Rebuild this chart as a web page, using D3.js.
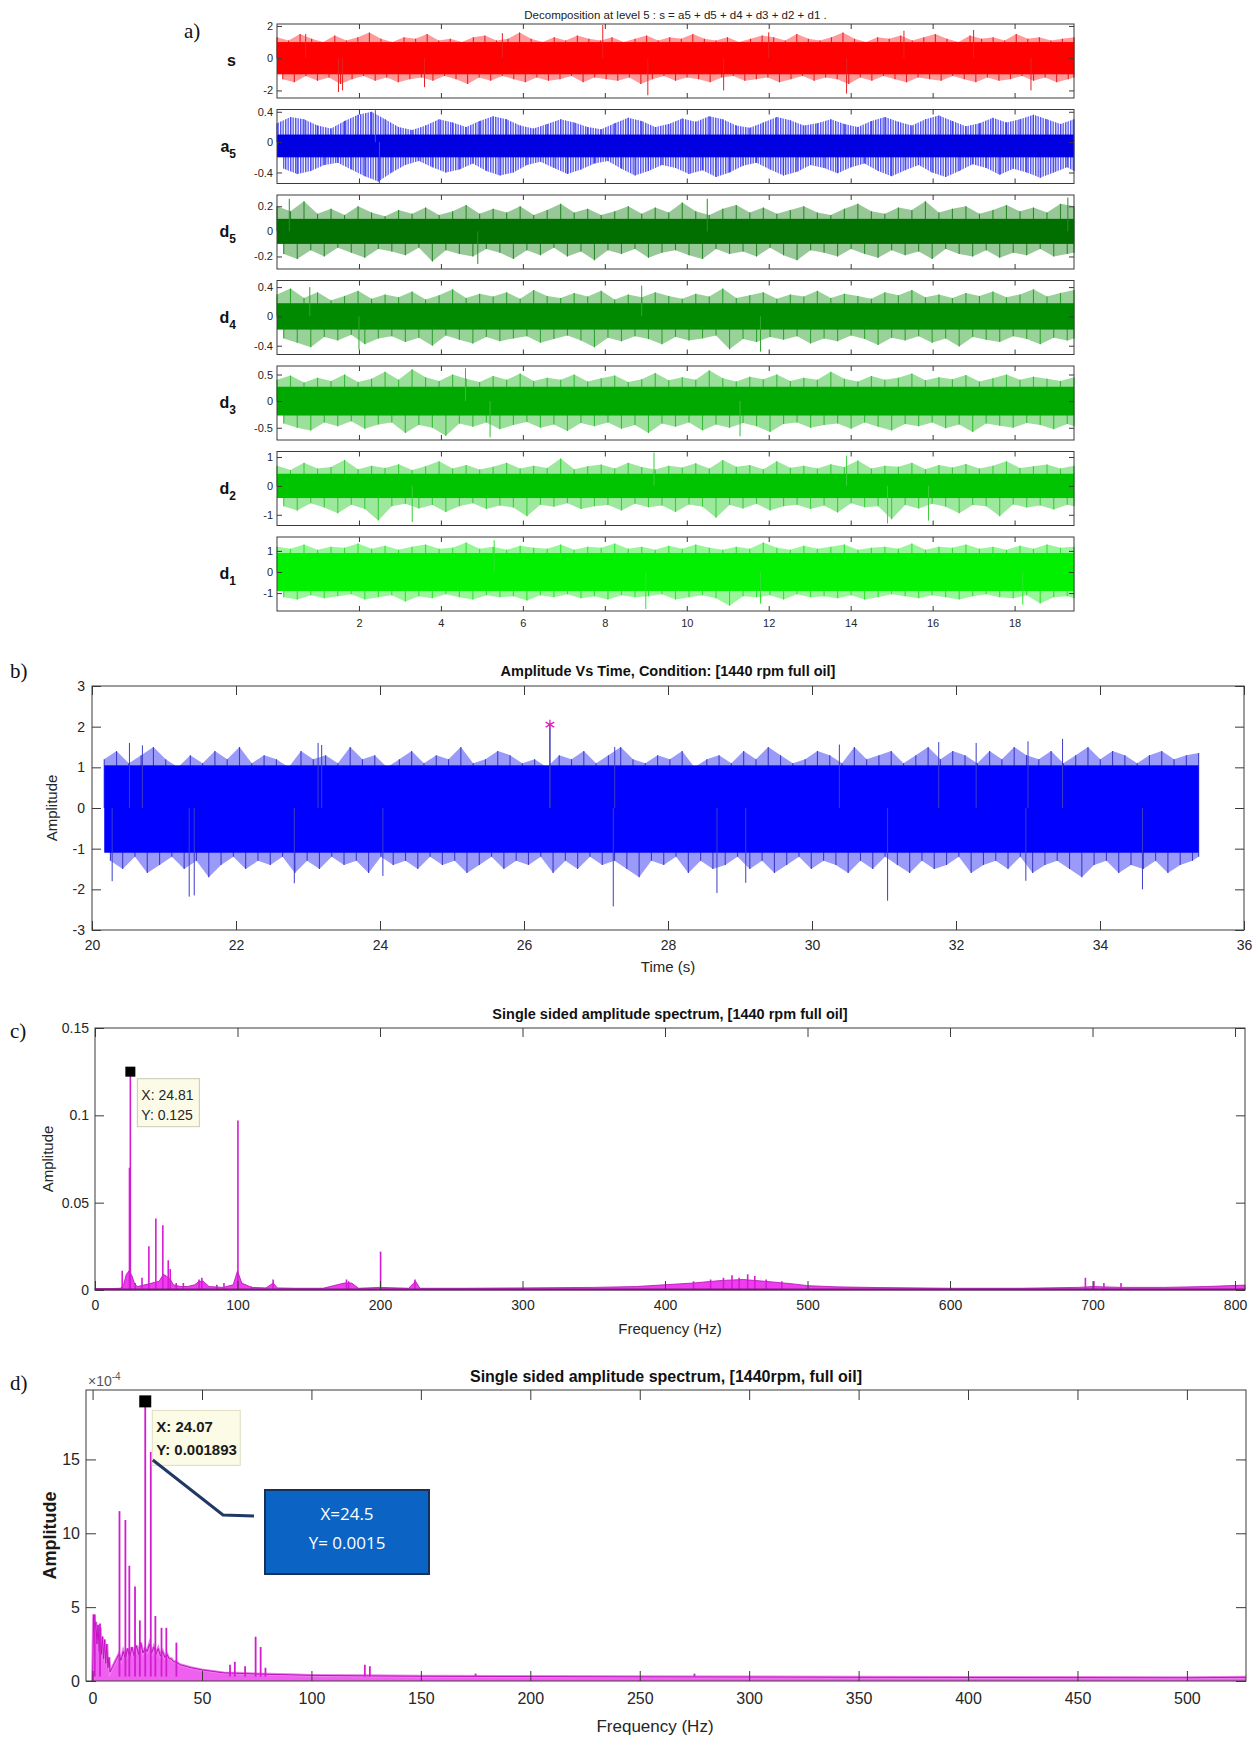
<!DOCTYPE html>
<meta charset="utf-8">
<title>Wavelet decomposition and spectra</title>
<style>
body { margin: 0; background: #fff; }
svg { display: block; }
.frame { fill: none; stroke: #3a3a3a; stroke-width: 1; }
.tick line { stroke: #3a3a3a; }
.tick text { fill: #262626; }
.plabel { font-family: "Liberation Serif", "DejaVu Serif", serif; font-size: 21px; fill: #111; }
</style>
<svg width="1260" height="1740"></svg>
<script src="https://d3js.org/d3.v7.min.js"></script>
<script>
// ---------- data ----------
// a) level-5 decomposition: envelope of each signal (upper / lower), dense core band, outliers [t, value]
const decompNames = ["s", "a5", "d5", "d4", "d3", "d2", "d1"];
const decompTimeEnd = 19.45;

const sTop = [1.3,1.1,1.5,1.2,1.0,1.4,1.1,1.3,1.6,1.2,1.0,1.3,1.2,1.5,1.1,1.2,1.0,1.3,1.4,1.1,1.2,1.6,1.2,1.0,1.3,1.1,1.4,1.2,1.1,1.3,1.0,1.2,1.4,1.1,1.3,1.2,1.5,1.2,1.1,1.3,1.0,1.2,1.4,1.3,1.1,1.5,1.2,1.1,1.3,1.6,1.2,1.0,1.3,1.2,1.4,1.1,1.3,1.5,1.2,1.0,1.4,1.2,1.3,1.1,1.5,1.2,1.3,1.1,1.2,1.3];
const sBot = [-1.3,-1.5,-1.1,-1.4,-1.2,-1.6,-1.3,-1.1,-1.4,-1.2,-1.5,-1.3,-1.2,-1.4,-1.1,-1.3,-1.6,-1.2,-1.4,-1.1,-1.3,-1.5,-1.2,-1.4,-1.3,-1.1,-1.5,-1.2,-1.3,-1.4,-1.2,-1.6,-1.3,-1.1,-1.4,-1.2,-1.3,-1.5,-1.2,-1.1,-1.4,-1.3,-1.2,-1.5,-1.3,-1.1,-1.4,-1.2,-1.3,-1.6,-1.2,-1.4,-1.1,-1.3,-1.5,-1.2,-1.3,-1.4,-1.1,-1.3,-1.5,-1.2,-1.4,-1.3,-1.1,-1.4,-1.2,-1.5,-1.3,-1.2];
const sSpikes = [[0.7,1.5],[1.5,-2.1],[1.6,-2.0],[3.6,-1.8],[5.5,1.55],[7.95,2.05],[9.05,-2.3],[10.9,-2.0],[12.0,1.6],[13.9,-2.2],[15.3,1.7],[17.0,1.75],[18.4,-2.0]];

const a5Top = [0.25,0.33,0.3,0.22,0.18,0.28,0.36,0.4,0.3,0.2,0.16,0.22,0.3,0.26,0.2,0.28,0.34,0.3,0.22,0.18,0.24,0.3,0.26,0.2,0.17,0.25,0.32,0.28,0.2,0.24,0.31,0.27,0.34,0.3,0.22,0.19,0.26,0.33,0.29,0.22,0.25,0.3,0.24,0.2,0.28,0.33,0.27,0.22,0.3,0.35,0.28,0.21,0.25,0.32,0.26,0.3,0.36,0.3,0.24,0.3];
const a5Bot = [-0.35,-0.42,-0.38,-0.3,-0.27,-0.36,-0.45,-0.52,-0.4,-0.3,-0.25,-0.33,-0.4,-0.36,-0.28,-0.38,-0.44,-0.4,-0.3,-0.26,-0.34,-0.42,-0.36,-0.28,-0.25,-0.35,-0.44,-0.38,-0.3,-0.34,-0.42,-0.37,-0.46,-0.4,-0.31,-0.27,-0.36,-0.44,-0.39,-0.3,-0.34,-0.41,-0.33,-0.28,-0.38,-0.45,-0.37,-0.3,-0.4,-0.46,-0.38,-0.29,-0.34,-0.43,-0.35,-0.4,-0.47,-0.4,-0.33,-0.38];
const a5Spikes = [[2.4,0.42],[2.5,-0.54]];

const d5Top = [0.2,0.16,0.24,0.14,0.18,0.13,0.2,0.15,0.12,0.17,0.14,0.19,0.13,0.16,0.21,0.14,0.18,0.15,0.2,0.13,0.17,0.22,0.15,0.18,0.13,0.16,0.2,0.14,0.19,0.15,0.23,0.16,0.13,0.18,0.21,0.15,0.19,0.14,0.17,0.2,0.15,0.13,0.18,0.22,0.16,0.14,0.19,0.17,0.24,0.15,0.18,0.2,0.14,0.17,0.21,0.16,0.19,0.15,0.22,0.2];
const d5Bot = [-0.18,-0.22,-0.15,-0.2,-0.13,-0.17,-0.21,-0.14,-0.16,-0.19,-0.13,-0.24,-0.15,-0.18,-0.2,-0.14,-0.17,-0.22,-0.15,-0.19,-0.13,-0.2,-0.16,-0.23,-0.15,-0.18,-0.14,-0.21,-0.17,-0.15,-0.19,-0.22,-0.14,-0.18,-0.16,-0.2,-0.13,-0.19,-0.23,-0.15,-0.17,-0.2,-0.14,-0.18,-0.21,-0.15,-0.19,-0.16,-0.22,-0.14,-0.18,-0.2,-0.15,-0.21,-0.17,-0.19,-0.14,-0.2,-0.18,-0.17];
const d5Spikes = [[0.3,0.26],[4.9,-0.26],[10.5,0.26],[19.3,0.27]];

const d4Top = [0.3,0.38,0.25,0.33,0.22,0.28,0.35,0.24,0.3,0.26,0.34,0.23,0.29,0.37,0.25,0.31,0.27,0.33,0.24,0.36,0.28,0.25,0.32,0.27,0.35,0.23,0.3,0.26,0.33,0.28,0.24,0.31,0.27,0.38,0.25,0.29,0.33,0.24,0.3,0.27,0.35,0.25,0.31,0.28,0.24,0.33,0.29,0.36,0.26,0.3,0.25,0.32,0.28,0.34,0.26,0.3,0.37,0.27,0.32,0.36];
const d4Bot = [-0.3,-0.36,-0.42,-0.28,-0.33,-0.25,-0.38,-0.3,-0.27,-0.35,-0.29,-0.4,-0.26,-0.32,-0.37,-0.28,-0.34,-0.3,-0.27,-0.36,-0.31,-0.26,-0.33,-0.42,-0.29,-0.34,-0.27,-0.31,-0.38,-0.28,-0.33,-0.3,-0.26,-0.45,-0.31,-0.35,-0.28,-0.32,-0.27,-0.37,-0.3,-0.34,-0.26,-0.31,-0.39,-0.29,-0.33,-0.27,-0.36,-0.3,-0.41,-0.28,-0.32,-0.35,-0.27,-0.31,-0.38,-0.29,-0.33,-0.3];
const d4Spikes = [[0.8,0.4],[2.0,-0.45],[11.8,-0.48],[8.9,0.42]];

const d3Top = [0.4,0.48,0.35,0.44,0.38,0.5,0.36,0.42,0.55,0.4,0.6,0.45,0.38,0.5,0.42,0.36,0.47,0.4,0.52,0.38,0.44,0.4,0.5,0.37,0.43,0.48,0.36,0.41,0.53,0.39,0.45,0.4,0.58,0.43,0.37,0.46,0.41,0.5,0.38,0.44,0.4,0.55,0.42,0.37,0.47,0.4,0.44,0.52,0.39,0.45,0.41,0.49,0.37,0.43,0.5,0.4,0.46,0.42,0.38,0.45];
const d3Bot = [-0.42,-0.5,-0.55,-0.4,-0.47,-0.38,-0.52,-0.44,-0.4,-0.6,-0.45,-0.5,-0.65,-0.42,-0.48,-0.4,-0.53,-0.45,-0.39,-0.5,-0.44,-0.56,-0.41,-0.47,-0.4,-0.52,-0.45,-0.6,-0.42,-0.48,-0.4,-0.55,-0.44,-0.5,-0.41,-0.47,-0.58,-0.43,-0.4,-0.5,-0.45,-0.42,-0.52,-0.4,-0.48,-0.55,-0.43,-0.47,-0.4,-0.51,-0.44,-0.58,-0.42,-0.46,-0.5,-0.41,-0.45,-0.53,-0.43,-0.47];
const d3Spikes = [[4.6,0.62],[5.2,-0.68],[11.3,-0.66]];

const d2Top = [0.7,0.55,0.8,0.6,0.65,0.9,0.58,0.7,0.62,0.75,0.55,0.68,0.85,0.6,0.72,0.57,0.66,0.8,0.6,0.7,0.62,0.95,0.58,0.68,0.74,0.6,0.8,0.65,0.57,0.7,0.64,0.78,0.6,0.9,0.66,0.72,0.58,0.85,0.63,0.7,0.6,0.75,0.65,0.88,0.6,0.7,0.66,0.8,0.58,0.72,0.64,0.76,0.6,0.7,0.85,0.62,0.68,0.74,0.6,0.7];
const d2Bot = [-0.7,-0.85,-0.6,-0.75,-0.95,-0.65,-0.8,-1.2,-0.7,-0.62,-0.78,-0.66,-0.9,-0.7,-0.6,-0.8,-0.68,-0.75,-1.05,-0.65,-0.72,-0.6,-0.8,-0.7,-0.66,-0.85,-0.62,-0.74,-0.68,-0.9,-0.64,-0.72,-1.1,-0.66,-0.78,-0.62,-0.85,-0.7,-0.65,-0.8,-0.68,-0.92,-0.6,-0.74,-0.7,-1.15,-0.66,-0.78,-0.62,-0.72,-0.95,-0.66,-0.7,-1.05,-0.64,-0.75,-0.68,-0.82,-0.65,-0.7];
const d2Spikes = [[3.3,-1.25],[9.2,1.15],[13.9,1.05],[14.9,-1.3],[15.9,-1.2]];

const d1Top = [1.2,1.1,1.3,1.05,1.2,1.15,1.35,1.1,1.25,1.05,1.2,1.3,1.1,1.15,1.4,1.1,1.2,1.05,1.25,1.15,1.1,1.3,1.05,1.2,1.15,1.35,1.1,1.2,1.05,1.25,1.1,1.3,1.15,1.05,1.2,1.1,1.4,1.15,1.05,1.25,1.1,1.2,1.3,1.05,1.15,1.2,1.1,1.35,1.05,1.2,1.15,1.3,1.1,1.2,1.05,1.25,1.1,1.3,1.15,1.2];
const d1Bot = [-1.2,-1.3,-1.1,-1.25,-1.15,-1.05,-1.3,-1.2,-1.1,-1.4,-1.15,-1.25,-1.05,-1.2,-1.3,-1.1,-1.2,-1.15,-1.35,-1.1,-1.2,-1.05,-1.25,-1.15,-1.3,-1.1,-1.2,-1.15,-1.05,-1.3,-1.2,-1.1,-1.25,-1.6,-1.15,-1.2,-1.1,-1.3,-1.05,-1.2,-1.15,-1.25,-1.1,-1.3,-1.2,-1.05,-1.15,-1.25,-1.1,-1.2,-1.3,-1.15,-1.05,-1.2,-1.25,-1.1,-1.5,-1.2,-1.15,-1.25];
const d1Spikes = [[5.3,1.5],[9.0,-1.75],[11.8,-1.5],[18.2,-1.55]];

const decompCore = [[-1.0,1.0],[-0.2,0.1],[-0.1,0.1],[-0.18,0.18],[-0.27,0.27],[-0.42,0.42],[-0.9,0.9]];
const decompLimits = [[-2.47,2.12],[-0.545,0.43],[-0.30,0.29],[-0.52,0.49],[-0.73,0.66],[-1.37,1.19],[-1.85,1.66]];
const decompYTicks = [[-2,0,2],[-0.4,0,0.4],[-0.2,0,0.2],[-0.4,0,0.4],[-0.5,0,0.5],[-1,0,1],[-1,0,1]];
const decompXTicks = [2,4,6,8,10,12,14,16,18];

// b) time signal, 20.17 s to 35.37 s
const bTimeRange = [20.17, 35.37];
const bTop = [1.2,1.4,1.1,1.3,1.5,1.2,1.0,1.3,1.1,1.4,1.2,1.5,1.1,1.3,1.2,1.0,1.4,1.2,1.3,1.1,1.5,1.2,1.3,1.0,1.2,1.4,1.1,1.3,1.2,1.5,1.1,1.2,1.4,1.3,1.1,1.2,1.0,1.3,1.2,1.4,1.1,1.3,1.5,1.2,1.1,1.3,1.2,1.4,1.0,1.2,1.3,1.1,1.4,1.2,1.5,1.3,1.1,1.2,1.4,1.3,1.1,1.5,1.2,1.3,1.4,1.1,1.3,1.5,1.2,1.4,1.3,1.1,1.4,1.2,1.5,1.3,1.2,1.4,1.1,1.3,1.5,1.2,1.4,1.3,1.1,1.3,1.4,1.2,1.3,1.35];
const bBot = [-1.3,-1.5,-1.2,-1.6,-1.4,-1.2,-1.5,-1.3,-1.7,-1.4,-1.2,-1.5,-1.3,-1.4,-1.2,-1.6,-1.3,-1.5,-1.2,-1.4,-1.3,-1.6,-1.2,-1.4,-1.3,-1.5,-1.2,-1.4,-1.3,-1.6,-1.4,-1.2,-1.5,-1.3,-1.4,-1.2,-1.6,-1.3,-1.5,-1.2,-1.4,-1.3,-1.5,-1.7,-1.3,-1.4,-1.2,-1.6,-1.3,-1.5,-1.4,-1.2,-1.5,-1.3,-1.6,-1.4,-1.2,-1.5,-1.3,-1.4,-1.6,-1.3,-1.5,-1.2,-1.4,-1.6,-1.3,-1.5,-1.4,-1.2,-1.6,-1.4,-1.3,-1.5,-1.2,-1.6,-1.4,-1.3,-1.5,-1.7,-1.4,-1.3,-1.6,-1.4,-1.5,-1.3,-1.6,-1.4,-1.3,-1.2];
const bCore = [-1.1, 1.05];
const bSpikes = [[20.28,-1.8],[20.52,1.6],[20.7,1.54],[21.35,-2.18],[21.42,-2.15],[22.81,-1.85],[23.14,1.6],[23.19,1.55],[24.04,-1.67],[26.36,1.95],[27.24,-2.42],[27.26,1.5],[28.68,-2.09],[29.08,-1.84],[30.38,1.56],[31.05,-2.28],[31.76,1.62],[32.28,1.6],[32.97,-1.79],[33.0,1.64],[33.48,1.7],[34.59,-2.0]];
const bMarker = [26.36, 2.05];
const bXTicks = [20,22,24,26,28,30,32,34,36];
const bYTicks = [-3,-2,-1,0,1,2,3];

// c) spectrum 0-807 Hz
const cFloor = [[0,0.0008],[10,0.0008],[18,0.001],[20,0.003],[22,0.009],[24,0.011],[26,0.008],[28,0.003],[30,0.002],[35,0.003],[40,0.004],[45,0.005],[48,0.009],[50,0.008],[53,0.006],[55,0.003],[60,0.002],[65,0.002],[70,0.003],[73,0.005],[76,0.005],[80,0.002],[90,0.0015],[97,0.003],[100,0.011],[103,0.004],[110,0.0015],[120,0.0012],[125,0.004],[128,0.0012],[140,0.001],[160,0.001],[175,0.004],[180,0.004],[185,0.001],[200,0.0015],[220,0.001],[225,0.005],[228,0.001],[260,0.001],[300,0.0012],[350,0.0015],[380,0.002],[400,0.003],[420,0.004],[440,0.0055],[455,0.006],[470,0.005],[490,0.0035],[500,0.0025],[520,0.0018],[550,0.0014],[600,0.001],[650,0.001],[690,0.0015],[700,0.002],[720,0.0015],[750,0.0015],[780,0.002],[807,0.0028]];
const cPeaks = [[19.1,0.011],[24.2,0.07],[24.81,0.125],[28.2,0.004],[33,0.007],[37.8,0.025],[42.7,0.041],[47.6,0.037],[51.4,0.017],[52.8,0.012],[57,0.004],[62,0.004],[73,0.006],[75,0.007],[85.5,0.003],[90.5,0.004],[100.3,0.097],[109.7,0.002],[125,0.006],[176.5,0.006],[178,0.005],[200.4,0.022],[224.5,0.006],[420,0.005],[432,0.006],[441,0.007],[447,0.0085],[452,0.007],[458,0.009],[463,0.008],[471,0.006],[482,0.005],[695,0.007],[701,0.005],[708,0.004],[720,0.004]];
const cTip = [24.81, 0.125];
const cXTicks = [0,100,200,300,400,500,600,700,800];
const cYTicks = [0,0.05,0.1,0.15];

// d) spectrum 0-527 Hz, amplitude in units of 1e-4
const dFloor = [[0,0],[0.5,4.5],[1,3.5],[1.5,4],[2,2.5],[2.5,3.8],[3,2],[3.5,3.6],[4,1.8],[4.5,3],[5,1.5],[5.5,2.8],[6,1.2],[6.5,2.5],[7,0.9],[7.5,1.6],[8,0.6],[9,0.9],[10,1.2],[11,1.5],[12,1.8],[13,1.4],[14,2],[15,1.5],[16,2.2],[17,1.6],[18,2.3],[19,1.7],[20,2.4],[21,1.8],[22,2.6],[23,1.9],[24,2.2],[25,2.0],[26,2.5],[27,1.9],[28,2.3],[29,1.8],[30,2.2],[31,1.7],[32,2.0],[33,1.6],[34,1.8],[35,1.5],[36,1.5],[37,1.3],[38,1.3],[40,1.1],[45,0.9],[50,0.75],[55,0.65],[60,0.55],[70,0.5],[80,0.45],[90,0.42],[100,0.38],[125,0.35],[150,0.32],[200,0.3],[250,0.28],[300,0.27],[350,0.25],[400,0.24],[450,0.23],[500,0.22],[527,0.25]];
const dPeaks = [[1,4.5],[3.4,3.9],[12.3,11.5],[15,10.9],[16.8,7.8],[19.4,6.4],[21.6,4.1],[24.07,18.93],[26.6,15.5],[28.7,4.4],[31.5,3.6],[33.7,3.6],[38.3,2.6],[62.8,1.1],[65,1.3],[69.7,1.0],[74.5,3.0],[76.8,2.3],[79,0.9],[124.4,1.1],[126.7,1.0],[175,0.5],[275,0.5]];
const dTip = [24.07, 18.93];
const dCallout = [26.6, 15.5];
const dXTicks = [0,50,100,150,200,250,300,350,400,450,500];
const dYTicks = [0,5,10,15];

// ---------- drawing ----------
const svg = d3.select("svg");
const defs = svg.append("defs");
const sans = '"Liberation Sans", Arial, Helvetica, sans-serif';
const narrow = '"Liberation Sans Narrow", "Liberation Sans", Arial, sans-serif';
const fmt = d => String(d);

// thin vertical hatch (a5 shows its oscillation as separate strokes)
let patCount = 0;
function hatch(color) {
  const id = "hatch" + (patCount++);
  const p = defs.append("pattern").attr("id", id).attr("patternUnits", "userSpaceOnUse")
    .attr("width", 2.5).attr("height", 8);
  p.append("rect").attr("width", 1.4).attr("height", 8).attr("fill", color);
  return `url(#${id})`;
}

// MATLAB style box with inward ticks on all four sides
function boxAxes(g, x, y, o) {
  const [x0, x1] = x.range(), [yb, yt] = y.range();
  const style = sel => {
    sel.select(".domain").remove();
    sel.selectAll("text").attr("font-family", o.font).attr("font-size", o.size);
  };
  g.append("g").attr("transform", `translate(0,${yb})`)
    .call(d3.axisBottom(x).tickValues(o.xticks).tickSize(-o.tick).tickPadding(o.xpad)
      .tickFormat(o.xlabels === false ? "" : fmt)).call(style);
  g.append("g").attr("transform", `translate(0,${yt})`)
    .call(d3.axisTop(x).tickValues(o.xticks).tickSize(-o.tick).tickFormat("")).call(style);
  g.append("g").attr("transform", `translate(${x0},0)`)
    .call(d3.axisLeft(y).tickValues(o.yticks).tickSize(-o.tick).tickPadding(o.ypad)
      .tickFormat(o.yfmt || fmt)).call(style);
  g.append("g").attr("transform", `translate(${x1},0)`)
    .call(d3.axisRight(y).tickValues(o.yticks).tickSize(-o.tick).tickFormat("")).call(style);
  g.append("rect").attr("class", "frame")
    .attr("x", x0).attr("y", yt).attr("width", x1 - x0).attr("height", yb - yt);
}

// dense signal: soft envelope + envelope samples as trace lines + dense core + outliers
function drawSignal(g, x, y, t0, t1, top, bot, core, spikes, col) {
  const it = d3.scaleLinear().domain([0, top.length - 1]).range([t0, t1]);
  const ib = d3.scaleLinear().domain([-0.5, bot.length - 1.5]).range([t0, t1]);
  const xb = i => x(Math.min(t1, Math.max(t0, ib(i))));
  const fill = col.hatch ? hatch(col.edge) : col.edge;
  const op = col.hatch ? 1 : 0.45;
  g.append("path").datum(top)
    .attr("d", d3.area().x((d, i) => x(it(i))).y0(y(0)).y1(d => y(d)))
    .attr("fill", fill).attr("fill-opacity", op);
  g.append("path").datum(bot)
    .attr("d", d3.area().x((d, i) => xb(i)).y0(y(0)).y1(d => y(d)))
    .attr("fill", fill).attr("fill-opacity", op);
  g.selectAll(null).data(top).join("line")
    .attr("x1", (d, i) => x(it(i))).attr("x2", (d, i) => x(it(i)))
    .attr("y1", y(0)).attr("y2", d => y(d))
    .attr("stroke", col.spike).attr("stroke-width", 1.1);
  g.selectAll(null).data(bot).join("line")
    .attr("x1", (d, i) => xb(i)).attr("x2", (d, i) => xb(i))
    .attr("y1", y(0)).attr("y2", d => y(d))
    .attr("stroke", col.spike).attr("stroke-width", 1.1);
  g.append("rect")
    .attr("x", x(t0)).attr("width", x(t1) - x(t0))
    .attr("y", y(core[1])).attr("height", y(core[0]) - y(core[1]))
    .attr("fill", col.core);
  g.selectAll(null).data(spikes).join("line")
    .attr("x1", d => x(d[0])).attr("x2", d => x(d[0]))
    .attr("y1", y(0)).attr("y2", d => y(d[1]))
    .attr("stroke", col.spike).attr("stroke-width", 1);
}

// ----- a) decomposition -----
const decompTops = [sTop, a5Top, d5Top, d4Top, d3Top, d2Top, d1Top];
const decompBots = [sBot, a5Bot, d5Bot, d4Bot, d3Bot, d2Bot, d1Bot];
const decompSpikes = [sSpikes, a5Spikes, d5Spikes, d4Spikes, d3Spikes, d2Spikes, d1Spikes];
const decompColors = [
  { core: "#ff0000", edge: "#ff2020", spike: "#e82020" },
  { core: "#0000e0", edge: "#5050f0", spike: "#4646e8", hatch: true },
  { core: "#006f00", edge: "#1a861a", spike: "#2a8a2a" },
  { core: "#008a00", edge: "#1c9c1c", spike: "#2ea42e" },
  { core: "#00a900", edge: "#20b820", spike: "#38bb38" },
  { core: "#00c400", edge: "#24cc24", spike: "#3ccc3c" },
  { core: "#00f000", edge: "#1aee1a", spike: "#30e430" }
];
const xDec = d3.scaleLinear().domain([0, decompTimeEnd]).range([277, 1074]);
const decTop0 = 24, decPitch = 85.5, decH = 74;

svg.append("text").attr("class", "plabel").attr("x", 184).attr("y", 38).text("a)");
svg.append("text").attr("x", (277 + 1074) / 2).attr("y", 19).attr("text-anchor", "middle")
  .attr("font-family", narrow).attr("font-size", 11.5).attr("fill", "#222")
  .text("Decomposition at level 5 : s = a5 + d5 + d4 + d3 + d2 + d1 .");

decompNames.forEach((name, k) => {
  const top = decTop0 + k * decPitch;
  const y = d3.scaleLinear().domain(decompLimits[k]).range([top + decH, top]);
  const g = svg.append("g");
  drawSignal(g, xDec, y, 0, decompTimeEnd, decompTops[k], decompBots[k], decompCore[k], decompSpikes[k], decompColors[k]);
  boxAxes(g, xDec, y, {
    xticks: decompXTicks, yticks: decompYTicks[k], tick: 5,
    xlabels: k === decompNames.length - 1, xpad: 8, ypad: 4,
    font: sans, size: 11
  });
  const t = g.append("text").attr("x", 236).attr("y", top + decH / 2 + 5)
    .attr("text-anchor", "end").attr("font-family", sans).attr("font-weight", "bold")
    .attr("font-size", 16).attr("fill", "#111");
  t.append("tspan").text(name[0]);
  if (name.length > 1) t.append("tspan").attr("dy", 6).attr("font-size", 12).text(name.slice(1));
});

// ----- b) amplitude vs time -----
{
  const x = d3.scaleLinear().domain([20, 36]).range([92, 1244]);
  const y = d3.scaleLinear().domain([-3, 3]).range([930, 686]);
  const g = svg.append("g");
  svg.append("text").attr("class", "plabel").attr("x", 10).attr("y", 678).text("b)");
  drawSignal(g, x, y, bTimeRange[0], bTimeRange[1], bTop, bBot, bCore, bSpikes,
    { core: "#0000ff", edge: "#2020f0", spike: "#3c3cc8" });
  g.append("line").attr("x1", x(bMarker[0])).attr("x2", x(bMarker[0]))
    .attr("y1", y(0)).attr("y2", y(bMarker[1])).attr("stroke", "#3a3ab8").attr("stroke-width", 1);
  g.append("path").attr("d", d3.symbol(d3.symbolAsterisk, 70)())
    .attr("transform", `translate(${x(bMarker[0])},${y(bMarker[1])})`)
    .attr("fill", "none").attr("stroke", "#e020c0").attr("stroke-width", 1.3);
  boxAxes(g, x, y, { xticks: bXTicks, yticks: bYTicks, tick: 9, xpad: 10, ypad: 7, font: sans, size: 14 });
  g.append("text").attr("x", (92 + 1244) / 2).attr("y", 676).attr("text-anchor", "middle")
    .attr("font-family", sans).attr("font-weight", "bold").attr("font-size", 14.5).attr("fill", "#111")
    .text("Amplitude Vs Time, Condition: [1440 rpm full oil]");
  g.append("text").attr("x", 668).attr("y", 972).attr("text-anchor", "middle")
    .attr("font-family", sans).attr("font-size", 15).attr("fill", "#262626").text("Time (s)");
  g.append("text").attr("transform", `translate(57,${(686 + 930) / 2}) rotate(-90)`).attr("text-anchor", "middle")
    .attr("font-family", sans).attr("font-size", 15).attr("fill", "#262626").text("Amplitude");
}

// ----- c) spectrum -----
{
  const x = d3.scaleLinear().domain([0, 807]).range([95, 1245]);
  const y = d3.scaleLinear().domain([0, 0.15]).range([1290, 1028]);
  const g = svg.append("g");
  svg.append("text").attr("class", "plabel").attr("x", 10).attr("y", 1038).text("c)");
  g.append("path").datum(cFloor)
    .attr("d", d3.area().x(d => x(d[0])).y0(y(0)).y1(d => y(d[1])))
    .attr("fill", "#f03cf0").attr("stroke", "#b010b0").attr("stroke-width", 0.8);
  g.selectAll(null).data(cPeaks).join("line")
    .attr("x1", d => x(d[0])).attr("x2", d => x(d[0]))
    .attr("y1", y(0)).attr("y2", d => y(d[1]))
    .attr("stroke", "#d41cd4").attr("stroke-width", 1.6);
  g.append("line").attr("x1", x(0)).attr("x2", x(807)).attr("y1", y(0.0004)).attr("y2", y(0.0004))
    .attr("stroke", "#7a1a7a").attr("stroke-width", 1.4);
  boxAxes(g, x, y, { xticks: cXTicks, yticks: cYTicks, tick: 9, xpad: 10, ypad: 6, font: sans, size: 14 });
  const mx = x(cTip[0]), my = y(cTip[1]);
  g.append("rect").attr("x", mx - 5).attr("y", my - 5).attr("width", 10).attr("height", 10).attr("fill", "#000");
  g.append("rect").attr("x", mx + 7).attr("y", my + 7).attr("width", 62).attr("height", 48)
    .attr("fill", "#fbfbe8").attr("stroke", "#c9c9b4");
  g.append("text").attr("x", mx + 11).attr("y", my + 28).attr("font-family", sans).attr("font-size", 14)
    .attr("fill", "#262626").text("X: " + cTip[0]);
  g.append("text").attr("x", mx + 11).attr("y", my + 48).attr("font-family", sans).attr("font-size", 14)
    .attr("fill", "#262626").text("Y: " + cTip[1]);
  g.append("text").attr("x", 670).attr("y", 1019).attr("text-anchor", "middle")
    .attr("font-family", sans).attr("font-weight", "bold").attr("font-size", 14.5).attr("fill", "#111")
    .text("Single sided amplitude spectrum, [1440 rpm full oil]");
  g.append("text").attr("x", 670).attr("y", 1334).attr("text-anchor", "middle")
    .attr("font-family", sans).attr("font-size", 15).attr("fill", "#262626").text("Frequency (Hz)");
  g.append("text").attr("transform", `translate(53,${(1028 + 1290) / 2}) rotate(-90)`).attr("text-anchor", "middle")
    .attr("font-family", sans).attr("font-size", 15).attr("fill", "#262626").text("Amplitude");
}

// ----- d) spectrum (x 1e-4) -----
{
  const x = d3.scaleLinear().domain([-3, 527]).range([86, 1246]);
  const y = d3.scaleLinear().domain([0, 19.7]).range([1681, 1390]);
  const g = svg.append("g");
  svg.append("text").attr("class", "plabel").attr("x", 10).attr("y", 1390).text("d)");
  g.append("path").datum(dFloor)
    .attr("d", d3.area().x(d => x(d[0])).y0(y(0)).y1(d => y(d[1])))
    .attr("fill", "#f060f0");
  g.append("path").datum(dFloor)
    .attr("d", d3.line().x(d => x(d[0])).y(d => y(d[1])))
    .attr("fill", "none").attr("stroke", "#ea80ea").attr("stroke-width", 3);
  g.append("path").datum(dFloor)
    .attr("d", d3.line().x(d => x(d[0])).y(d => y(d[1])))
    .attr("fill", "none").attr("stroke", "#c010c0").attr("stroke-width", 1);
  g.selectAll(null).data(dPeaks).join("line")
    .attr("x1", d => x(d[0])).attr("x2", d => x(d[0]))
    .attr("y1", y(0.3)).attr("y2", d => y(d[1]))
    .attr("stroke", "#d21cd2").attr("stroke-width", 1.8);
  boxAxes(g, x, y, { xticks: dXTicks, yticks: dYTicks, tick: 10, xpad: 12, ypad: 6, font: narrow, size: 16 });
  g.append("text").attr("x", 88).attr("y", 1386).attr("font-family", narrow).attr("font-size", 14)
    .attr("fill", "#555").text("\u00d710")
    .append("tspan").attr("dy", -6).attr("font-size", 10).text("-4");
  const mx = x(dTip[0]), my = y(dTip[1]);
  g.append("rect").attr("x", mx - 6).attr("y", my - 6).attr("width", 12).attr("height", 12).attr("fill", "#000");
  g.append("rect").attr("x", mx + 7).attr("y", my + 9).attr("width", 88).attr("height", 55)
    .attr("fill", "#fbfbe6").attr("stroke", "#dedcc0");
  g.append("text").attr("x", mx + 11).attr("y", my + 31).attr("font-family", narrow).attr("font-weight", "bold")
    .attr("font-size", 15).attr("fill", "#1a1a1a").text("X: " + dTip[0]);
  g.append("text").attr("x", mx + 11).attr("y", my + 54).attr("font-family", narrow).attr("font-weight", "bold")
    .attr("font-size", 15).attr("fill", "#1a1a1a").text("Y: 0.00" + Math.round(dTip[1] * 100));
  // callout box
  const cx = x(dCallout[0]), cy = y(dCallout[1]);
  g.append("path").attr("d", `M${cx + 2},${cy + 8}L223,1515L254,1516`)
    .attr("fill", "none").attr("stroke", "#1f3864").attr("stroke-width", 3);
  g.append("rect").attr("x", 265).attr("y", 1490).attr("width", 164).attr("height", 84)
    .attr("fill", "#0b63c4").attr("stroke", "#17305a").attr("stroke-width", 2);
  g.append("text").attr("x", 347).attr("y", 1520).attr("text-anchor", "middle")
    .attr("font-family", '"Open Sans", "Noto Sans", sans-serif').attr("font-size", 17).attr("fill", "#fff").text("X=24.5");
  g.append("text").attr("x", 347).attr("y", 1549).attr("text-anchor", "middle")
    .attr("font-family", '"Open Sans", "Noto Sans", sans-serif').attr("font-size", 17).attr("fill", "#fff").text("Y= 0.0015");
  g.append("text").attr("x", (86 + 1246) / 2).attr("y", 1382).attr("text-anchor", "middle")
    .attr("font-family", narrow).attr("font-weight", "bold").attr("font-size", 16).attr("fill", "#111")
    .text("Single sided amplitude spectrum, [1440rpm, full oil]");
  g.append("text").attr("x", 655).attr("y", 1732).attr("text-anchor", "middle")
    .attr("font-family", narrow).attr("font-size", 17).attr("fill", "#262626").text("Frequency (Hz)");
  g.append("text").attr("transform", `translate(56,${(1390 + 1681) / 2}) rotate(-90)`).attr("text-anchor", "middle")
    .attr("font-family", narrow).attr("font-weight", "bold").attr("font-size", 18).attr("fill", "#1a1a1a").text("Amplitude");
}
</script>
